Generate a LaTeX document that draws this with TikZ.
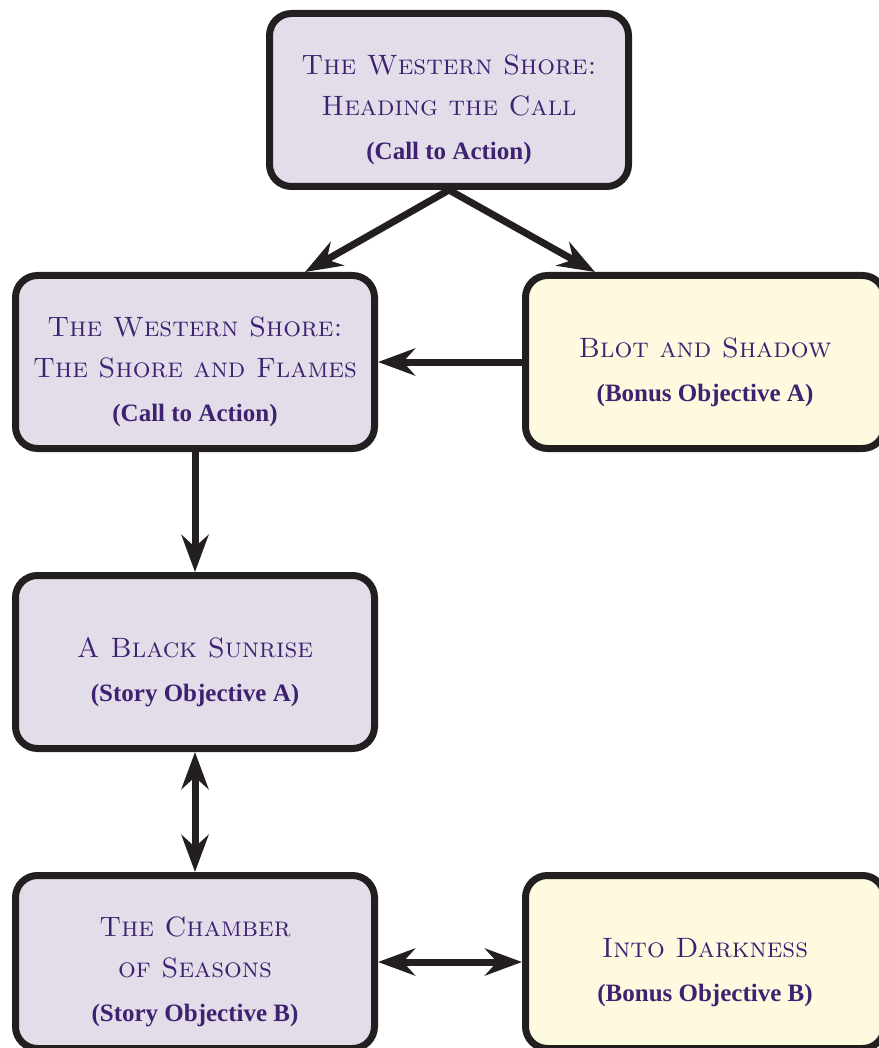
\documentclass[tikz,border=0pt]{standalone}
\usepackage{fontspec}
\newfontfamily\subfont{Liberation Serif}
\usetikzlibrary{arrows.meta}
\definecolor{lav}{HTML}{E3DDEA}
\definecolor{cream}{HTML}{FEFADF}
\definecolor{edge}{HTML}{231F20}
\definecolor{ink}{HTML}{3E2170}
\tikzset{
 box/.style={draw=edge, line width=7pt, rounded corners=22pt, minimum width=359pt, minimum height=173pt, inner sep=0pt, align=center, text=ink, font=\fontsize{28}{41}\selectfont\scshape},
 story/.style={box, fill=lav},
 bonus/.style={box, fill=cream},
 tip/.tip={Stealth[length=37pt,width=27pt,inset=12pt]},
 conn/.style={draw=edge, line width=7pt, -tip},
 both/.style={draw=edge, line width=7pt, tip-tip},
}
\newcommand{\subt}[1]{\\[3pt]{\subfont\bfseries\upshape\fontsize{25}{30}\selectfont(#1)}}
\newcommand{\topstrut}{\rule{0pt}{40pt}}
\begin{document}
\begin{tikzpicture}[x=1pt,y=-1pt]
\useasboundingbox (0,0) rectangle (878,1048);
\node[story] (hc) at (449,100) {\topstrut The Western Shore:\\Heading the Call\subt{Call to Action}};
\node[story] (sf) at (195,362) {\topstrut The Western Shore:\\The Shore and Flames\subt{Call to Action}};
\node[bonus] (bs) at (705,362) {\topstrut Blot and Shadow\subt{Bonus Objective A}};
\node[story] (bsun) at (195,662) {\topstrut A Black Sunrise\subt{Story Objective A}};
\node[story] (ch) at (195,962) {\topstrut The Chamber\\of Seasons\subt{Story Objective B}};
\node[bonus] (id) at (705,962) {\topstrut Into Darkness\subt{Bonus Objective B}};
\draw[conn] (hc.south) -- ([xshift=-73pt]sf.north east);
\draw[conn] (hc.south) -- ([xshift=73pt]bs.north west);
\draw[conn] (bs.west) -- (sf.east);
\draw[conn] (sf.south) -- (bsun.north);
\draw[both] (bsun.south) -- (ch.north);
\draw[both] (ch.east) -- (id.west);
\end{tikzpicture}
\end{document}
